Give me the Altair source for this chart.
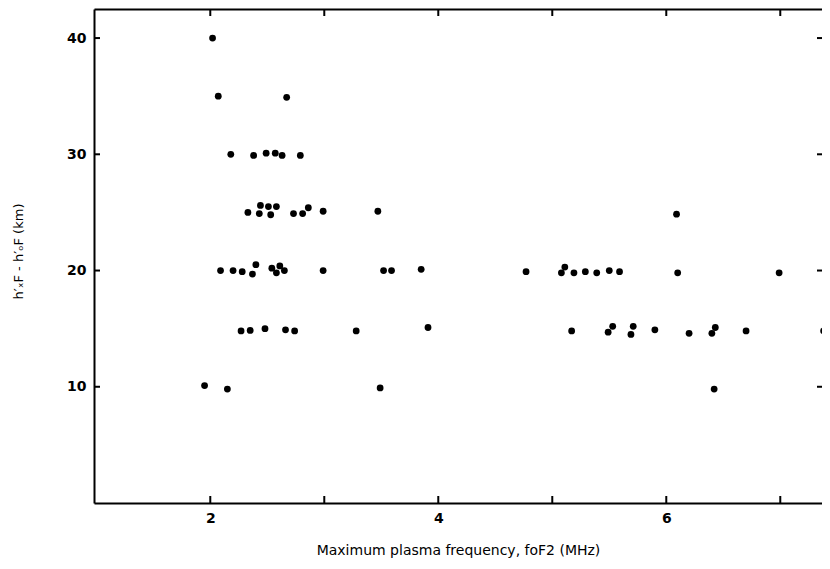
import altair as alt
import pandas as pd

# Maximum plasma frequency foF2 (MHz)
freq = [2.02, 2.07, 2.67, 2.18, 2.38, 2.49, 2.57, 2.63, 2.79, 2.33,
        2.44, 2.43, 2.51, 2.53, 2.58, 2.73, 2.81, 2.86, 2.99, 3.47,
        6.09, 2.09, 2.20, 2.28, 2.37, 2.40, 2.54, 2.58, 2.61, 2.65,
        2.99, 3.52, 3.59, 3.85, 4.77, 5.11, 5.08, 5.19, 5.29, 5.39,
        5.50, 5.59, 6.10, 6.99, 2.27, 2.35, 2.48, 2.66, 2.74, 3.28,
        3.91, 5.17, 5.49, 5.53, 5.69, 5.71, 5.90, 6.20, 6.40, 6.43,
        6.70, 7.38, 7.445, 1.95, 2.15, 3.49, 6.42]
# h'xF - h'oF (km)
delta = [40.0, 35.0, 34.9, 30.0, 29.9, 30.1, 30.1, 29.9, 29.9, 25.0,
         25.6, 24.9, 25.5, 24.8, 25.5, 24.9, 24.9, 25.4, 25.1, 25.1,
         24.85, 20.0, 20.0, 19.9, 19.7, 20.5, 20.2, 19.8, 20.4, 20.0,
         20.0, 20.0, 20.0, 20.1, 19.9, 20.3, 19.8, 19.8, 19.9, 19.8,
         20.0, 19.9, 19.8, 19.8, 14.8, 14.85, 15.0, 14.9, 14.8, 14.8,
         15.1, 14.8, 14.7, 15.2, 14.5, 15.2, 14.9, 14.6, 14.6, 15.1,
         14.8, 14.8, 15.2, 10.1, 9.8, 9.9, 9.8]

x_labels = [2, 4, 6]
x_ticks = [2, 3, 4, 5, 6, 7]
y_ticks = [10, 20, 30, 40]
x_domain = [0.98, 7.366]
y_domain = [0, 42.5]

W, H = 728, 494
FONT = "DejaVu Sans"

pts = pd.DataFrame({"f": freq, "d": delta})
xt = pd.DataFrame({"v": x_ticks})
yt = pd.DataFrame({"v": y_ticks})

xs = alt.Scale(domain=x_domain, nice=False, zero=False)
ys = alt.Scale(domain=y_domain, nice=False, zero=False)

points = alt.Chart(pts).mark_circle(size=46, color="black", opacity=1).encode(
    x=alt.X("f:Q", scale=xs,
            axis=alt.Axis(orient="bottom", values=x_labels, ticks=False, grid=False,
                          domain=True, domainColor="black", domainWidth=2,
                          labelPadding=8, labelFont=FONT, labelFontSize=14,
                          labelFontWeight="bold", labelColor="black",
                          title="Maximum plasma frequency, foF2 (MHz)",
                          titleFont=FONT, titleFontSize=14, titleFontWeight="normal",
                          titleColor="black", titleY=47, titleBaseline="middle")),
    y=alt.Y("d:Q", scale=ys,
            axis=alt.Axis(orient="left", values=y_ticks, ticks=False, grid=False,
                          domain=True, domainColor="black", domainWidth=2,
                          labelPadding=8, labelFont=FONT, labelFontSize=14,
                          labelFontWeight="bold", labelColor="black",
                          title="h′ₓF - h′ₒF (km)",
                          titleFont=FONT, titleFontSize=13, titleFontWeight="normal",
                          titleColor="black", titleX=-76, titleY=242,
                          titleBaseline="middle")),
)

top_ticks = alt.Chart(xt).mark_rule(color="black", strokeWidth=2).encode(
    x=alt.X("v:Q", scale=xs,
            axis=alt.Axis(orient="top", labels=False, ticks=False, grid=False,
                          domain=True, domainColor="black", domainWidth=2, title=None)),
    y=alt.value(0), y2=alt.value(7),
)

bottom_ticks = alt.Chart(xt).mark_rule(color="black", strokeWidth=2).encode(
    x=alt.X("v:Q", scale=xs, axis=None),
    y=alt.value(H), y2=alt.value(H - 7),
)

left_ticks = alt.Chart(yt).mark_rule(color="black", strokeWidth=2).encode(
    y=alt.Y("v:Q", scale=ys, axis=None),
    x=alt.value(0), x2=alt.value(6),
)

right_ticks = alt.Chart(yt).mark_rule(color="black", strokeWidth=2).encode(
    y=alt.Y("v:Q", scale=ys, axis=None),
    x=alt.value(W - 5), x2=alt.value(W),
)

chart = alt.layer(points, top_ticks, bottom_ticks, left_ticks, right_ticks).resolve_axis(
    x="independent", y="independent"
).properties(
    width=W, height=H,
    autosize=alt.AutoSizeParams(type="none"),
    padding={"left": 86, "top": 1, "right": 0, "bottom": 58},
    background="white",
).configure_view(stroke=None)

chart.save("out.html", embed_options={"renderer": "svg", "actions": False})
